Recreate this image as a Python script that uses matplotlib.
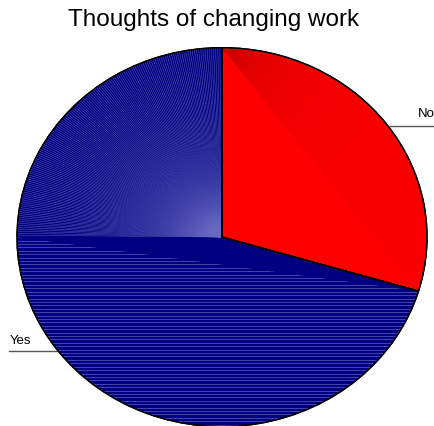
import numpy as np
import matplotlib
matplotlib.use("Agg")
import matplotlib.pyplot as plt
from matplotlib.patches import Polygon, Wedge

labels = ["No", "Yes"]
values = [29.6, 70.4]
colors = ["#ff0000", "#000080"]
title = "Thoughts of changing work"

plt.rcParams['font.family'] = ['Liberation Sans', 'DejaVu Sans']

fig = plt.figure(figsize=(4.35, 4.27), dpi=100)
ax = fig.add_axes([0, 0, 1, 1])
wedges, _ = ax.pie(values, colors=colors, startangle=90, counterclock=False,
                   wedgeprops=dict(edgecolor="black", linewidth=1.0))
ax.set_aspect("auto")
ax.set_xlim(-1.083, 1.039)
ax.set_ylim(-0.997, 1.257)
ax.axis("off")

no_w, yes_w = wedges
for w in wedges:
    w.set_zorder(1)

# texture on "No": fan lines from first arc vertex
t1, t2 = no_w.theta1, no_w.theta2
top = np.array([np.cos(np.radians(t2)), np.sin(np.radians(t2))])
for a in np.arange(t1, t2, 1.0):
    r = np.radians(a)
    ln, = ax.plot([top[0], np.cos(r)], [top[1], np.sin(r)], color="#c80000",
                  lw=0.25, alpha=0.55, zorder=2)
    ln.set_clip_path(no_w)

# texture on "Yes": radial lines upper-left
for a in np.arange(90, 180, 0.6):
    r = np.radians(a)
    ln, = ax.plot([0, np.cos(r)], [0, np.sin(r)], color="#6a6ac4",
                  lw=0.35, alpha=0.85, zorder=2)
    ln.set_clip_path(yes_w)

# lower segment bounded by chord
ang = np.radians(np.linspace(no_w.theta1, -180, 200))
seg = Polygon(np.column_stack([np.cos(ang), np.sin(ang)]), closed=True,
              facecolor="none", edgecolor="none")
ax.add_patch(seg)
for y in np.arange(-0.0, -1.0, -0.018):
    ln, = ax.plot([-1.05, 1.05], [y, y], color="#5c5cba", lw=0.6, alpha=0.85, zorder=2)
    ln.set_clip_path(seg)

# outline on top
for w in wedges:
    ax.add_patch(Wedge(w.center, w.r, w.theta1, w.theta2, facecolor="none",
                       edgecolor="black", lw=1.0, zorder=3))

# labels with leader lines
ax.plot([0.82, 1.039], [0.586, 0.586], color="#555555", lw=1.0)
ax.text(0.956, 0.653, labels[0], fontsize=9.5, ha="left", va="center")
ax.plot([-1.039, -0.805], [-0.60, -0.60], color="#555555", lw=1.0)
ax.text(-1.034, -0.542, labels[1], fontsize=9.5, ha="left", va="center")

fig.text(0.49, 1 - 20 / 427, title, fontsize=17.5, ha="center", va="center")

fig.savefig("out.png", dpi=100)
